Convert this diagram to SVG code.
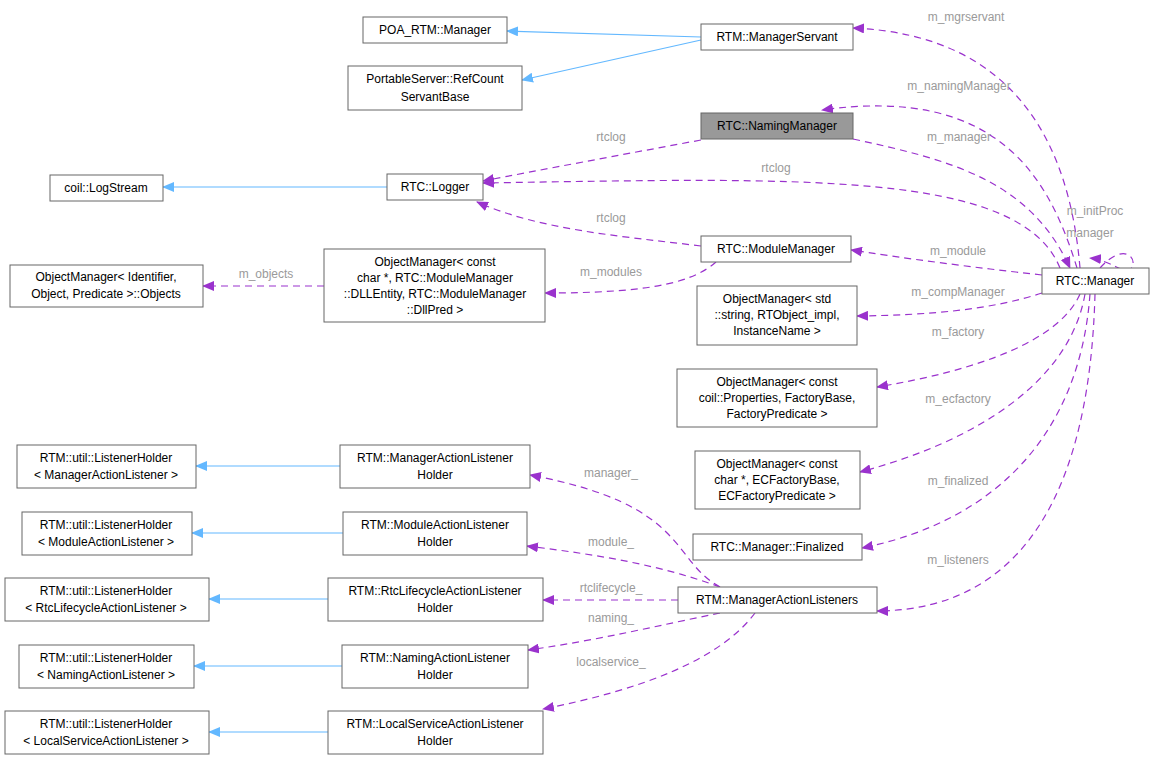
<svg xmlns="http://www.w3.org/2000/svg" width="1154" height="759" viewBox="0 0 1154 759">
<defs>
<marker id="ab" markerWidth="12" markerHeight="10" refX="11" refY="5" orient="auto" markerUnits="userSpaceOnUse"><path d="M0,0 L12,5 L0,10 Z" fill="#63b8ff"/></marker>
<marker id="ap" markerWidth="12" markerHeight="10" refX="11" refY="5" orient="auto" markerUnits="userSpaceOnUse"><path d="M0,0 L12,5 L0,10 Z" fill="#9a32cd"/></marker>
</defs>
<style>
.n rect{fill:#fff;stroke:#666;stroke-width:1}
.n text{font-family:"Liberation Sans",Arial,sans-serif;font-size:12px;fill:#000;text-anchor:middle}
.b{fill:none;stroke:#63b8ff;stroke-width:1.2;marker-end:url(#ab)}
.p{fill:none;stroke:#9a32cd;stroke-width:1.2;stroke-dasharray:7,5;marker-end:url(#ap)}
.l{font-family:"Liberation Sans",Arial,sans-serif;font-size:12px;fill:#9a9a9a;text-anchor:middle}
</style>
<rect width="1154" height="759" fill="#fff"/>
<g id="edges">
<path class="b" d="M701,37 L507,31"/>
<path class="b" d="M701,40 L522,80"/>
<path class="b" d="M387,187 L163,187"/>
<path class="b" d="M340,466 L196,466"/>
<path class="b" d="M343,533 L192,533"/>
<path class="b" d="M328,599 L209,599"/>
<path class="b" d="M342,666 L194,666"/>
<path class="b" d="M328,732 L209,732"/>
<path class="p" d="M324,286 L203,286"/>
<path class="p" d="M701,140 C620,155 540,170 483,181"/>
<path class="p" d="M1060,268 C1020,170 800,178 483,183"/>
<path class="p" d="M701,246 C620,236 540,230 477,202"/>
<path class="p" d="M716,262 C690,285 640,293 545,293"/>
<path class="p" d="M1080,268 C1070,150 1020,35 853,28"/>
<path class="p" d="M1077,268 C1050,180 1000,85 822,110"/>
<path class="p" d="M853,139 C950,160 1030,180 1070,268"/>
<path class="p" d="M1042,275 C980,268 930,262 851,250"/>
<path class="p" d="M1042,293 C990,310 930,315 857,316"/>
<path class="p" d="M1080,294 C1060,340 980,370 877,387"/>
<path class="p" d="M1085,294 C1070,380 980,440 860,472"/>
<path class="p" d="M1090,294 C1080,430 1000,520 862,548"/>
<path class="p" d="M1095,294 C1090,480 1030,610 877,611"/>
<path class="p" d="M1100,268 C1125,240 1140,260 1130,270 C1125,275 1110,260 1090,258"/>
<path class="p" d="M720,587 C670,560 690,505 530,475"/>
<path class="p" d="M720,587 C660,565 600,555 527,546"/>
<path class="p" d="M678,600 L543,600"/>
<path class="p" d="M720,613 C660,625 600,640 528,650"/>
<path class="p" d="M755,613 C720,660 640,690 543,709"/>
</g>
<g id="labels">
<text class="l" x="966" y="21">m_mgrservant</text>
<text class="l" x="959" y="90">m_namingManager</text>
<text class="l" x="959" y="141">m_manager</text>
<text class="l" x="611" y="141">rtclog</text>
<text class="l" x="776" y="172">rtclog</text>
<text class="l" x="611" y="222">rtclog</text>
<text class="l" x="611" y="276">m_modules</text>
<text class="l" x="266" y="278">m_objects</text>
<text class="l" x="1095" y="215">m_initProc</text>
<text class="l" x="1090" y="237">manager</text>
<text class="l" x="958" y="255">m_module</text>
<text class="l" x="958" y="296">m_compManager</text>
<text class="l" x="958" y="336">m_factory</text>
<text class="l" x="958" y="403">m_ecfactory</text>
<text class="l" x="958" y="485">m_finalized</text>
<text class="l" x="958" y="564">m_listeners</text>
<text class="l" x="611" y="477">manager_</text>
<text class="l" x="611" y="546">module_</text>
<text class="l" x="611" y="592">rtclifecycle_</text>
<text class="l" x="611" y="622">naming_</text>
<text class="l" x="611" y="666">localservice_</text>
</g>
<g id="nodes">
<g id="n1" class="n"><rect x="363" y="17" width="144" height="26"/><text x="435" y="34">POA_RTM::Manager</text></g>
<g id="n2" class="n"><rect x="348" y="66" width="174" height="44"/><text x="435" y="83">PortableServer::RefCount</text><text x="435" y="101">ServantBase</text></g>
<g id="n3" class="n"><rect x="701" y="24" width="152" height="26"/><text x="777" y="41">RTM::ManagerServant</text></g>
<g id="n4" class="n"><rect x="701" y="113" width="152" height="26" style="fill:#999"/><text x="777" y="130">RTC::NamingManager</text></g>
<g id="n5" class="n"><rect x="50" y="175" width="113" height="26"/><text x="106" y="192">coil::LogStream</text></g>
<g id="n6" class="n"><rect x="387" y="174" width="96" height="26"/><text x="435" y="191">RTC::Logger</text></g>
<g id="n7" class="n"><rect x="701" y="236" width="150" height="26"/><text x="776" y="253">RTC::ModuleManager</text></g>
<g id="n8" class="n"><rect x="10" y="265" width="193" height="42"/><text x="106" y="281">ObjectManager&lt; Identifier,</text><text x="106" y="298">Object, Predicate &gt;::Objects</text></g>
<g id="n9" class="n"><rect x="324" y="249" width="221" height="73"/><text x="435" y="266">ObjectManager&lt; const</text><text x="435" y="282">char *, RTC::ModuleManager</text><text x="435" y="298">::DLLEntity, RTC::ModuleManager</text><text x="435" y="314">::DllPred &gt;</text></g>
<g id="n10" class="n"><rect x="1042" y="268" width="107" height="26"/><text x="1095" y="285">RTC::Manager</text></g>
<g id="n11" class="n"><rect x="697" y="286" width="160" height="59"/><text x="777" y="303">ObjectManager&lt; std</text><text x="777" y="319">::string, RTObject_impl,</text><text x="777" y="335">InstanceName &gt;</text></g>
<g id="n12" class="n"><rect x="677" y="369" width="200" height="58"/><text x="777" y="386">ObjectManager&lt; const</text><text x="777" y="402">coil::Properties, FactoryBase,</text><text x="777" y="418">FactoryPredicate &gt;</text></g>
<g id="n13" class="n"><rect x="695" y="451" width="165" height="58"/><text x="777" y="468">ObjectManager&lt; const</text><text x="777" y="484">char *, ECFactoryBase,</text><text x="777" y="500">ECFactoryPredicate &gt;</text></g>
<g id="n14" class="n"><rect x="693" y="534" width="169" height="26"/><text x="777" y="551">RTC::Manager::Finalized</text></g>
<g id="n15" class="n"><rect x="678" y="587" width="199" height="26"/><text x="777" y="604">RTM::ManagerActionListeners</text></g>
<g id="n16" class="n"><rect x="17" y="445" width="179" height="43"/><text x="106" y="462">RTM::util::ListenerHolder</text><text x="106" y="479">&lt; ManagerActionListener &gt;</text></g>
<g id="n17" class="n"><rect x="22" y="512" width="170" height="43"/><text x="106" y="529">RTM::util::ListenerHolder</text><text x="106" y="546">&lt; ModuleActionListener &gt;</text></g>
<g id="n18" class="n"><rect x="5" y="578" width="204" height="43"/><text x="106" y="595">RTM::util::ListenerHolder</text><text x="106" y="612">&lt; RtcLifecycleActionListener &gt;</text></g>
<g id="n19" class="n"><rect x="19" y="645" width="175" height="43"/><text x="106" y="662">RTM::util::ListenerHolder</text><text x="106" y="679">&lt; NamingActionListener &gt;</text></g>
<g id="n20" class="n"><rect x="5" y="711" width="204" height="43"/><text x="106" y="728">RTM::util::ListenerHolder</text><text x="106" y="745">&lt; LocalServiceActionListener &gt;</text></g>
<g id="n21" class="n"><rect x="340" y="445" width="190" height="43"/><text x="435" y="462">RTM::ManagerActionListener</text><text x="435" y="479">Holder</text></g>
<g id="n22" class="n"><rect x="343" y="512" width="184" height="43"/><text x="435" y="529">RTM::ModuleActionListener</text><text x="435" y="546">Holder</text></g>
<g id="n23" class="n"><rect x="328" y="578" width="215" height="43"/><text x="435" y="595">RTM::RtcLifecycleActionListener</text><text x="435" y="612">Holder</text></g>
<g id="n24" class="n"><rect x="342" y="645" width="186" height="43"/><text x="435" y="662">RTM::NamingActionListener</text><text x="435" y="679">Holder</text></g>
<g id="n25" class="n"><rect x="328" y="711" width="215" height="43"/><text x="435" y="728">RTM::LocalServiceActionListener</text><text x="435" y="745">Holder</text></g>
</g>
</svg>
